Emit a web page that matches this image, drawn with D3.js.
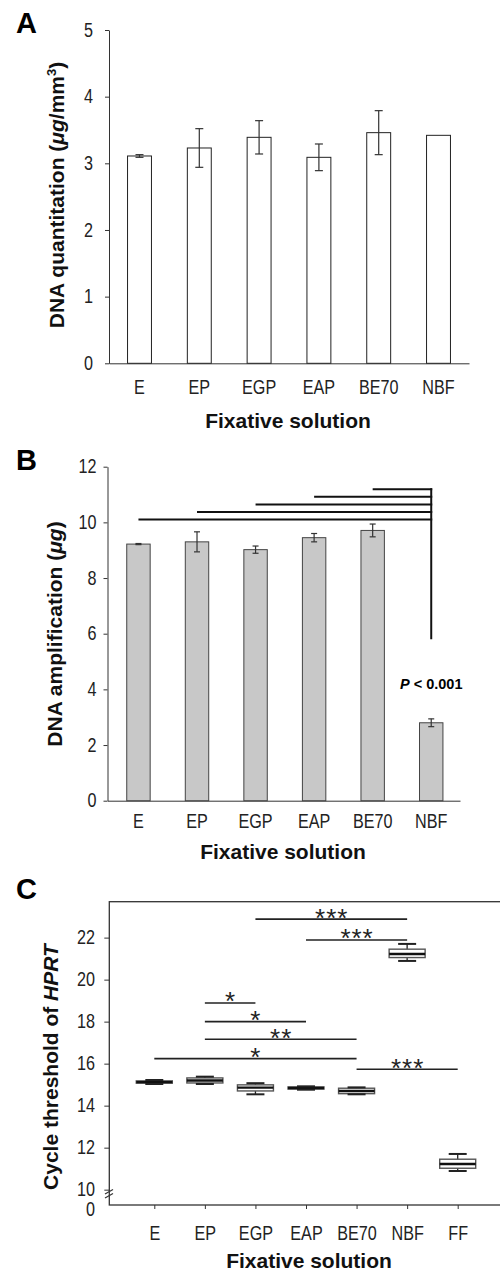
<!DOCTYPE html>
<html>
  <head>
    <meta charset="utf-8" />
    <title>Fixative solutions</title>
    <script src="https://d3js.org/d3.v7.min.js"></script>
    <style>
      body { margin: 0; background: #fff; }
      .tick text, .lbl { font-family: "Liberation Sans Narrow", "Arial Narrow", "Liberation Sans", sans-serif; font-size: 19.5px; fill: #222; }
      .title { font-family: "Liberation Sans", Arial, sans-serif; font-weight: bold; font-size: 21px; fill: #111; }
      .panel { font-family: "Liberation Sans", Arial, sans-serif; font-weight: bold; font-size: 29px; fill: #000; }
      .domain, .tick line { stroke: #333; }
    </style>
  </head>
  <body>
    <svg id="viz"></svg>
    <script>
      // panel A - DNA quantitation
      var categories = ["E", "EP", "EGP", "EAP", "BE70", "NBF"];
      var quantMean = [3.11, 3.23, 3.39, 3.09, 3.46, 3.42];
      var quantErr = [0.02, 0.29, 0.25, 0.20, 0.33, 0];
      var yTicksA = [0, 1, 2, 3, 4, 5];

      // panel B - DNA amplification
      var ampMean = [9.22, 9.30, 9.02, 9.45, 9.71, 2.80];
      var ampErr = [0.02, 0.36, 0.13, 0.15, 0.23, 0.14];
      var yTicksB = [0, 2, 4, 6, 8, 10, 12];
      var ampSigFrom = ["E", "EP", "EGP", "EAP", "BE70"];
      var ampSigLevel = [10.10, 10.37, 10.64, 10.92, 11.19];
      var ampSigBottom = 5.8;

      // panel C - Ct of HPRT (box plots)
      var ctCategories = ["E", "EP", "EGP", "EAP", "BE70", "NBF", "FF"];
      var ctMin    = [15.03, 15.03, 14.54, 14.76, 14.54, 20.89, 10.89];
      var ctQ1     = [15.07, 15.08, 14.70, 14.79, 14.57, 21.05, 11.02];
      var ctMedian = [15.12, 15.20, 14.86, 14.84, 14.70, 21.22, 11.22];
      var ctQ3     = [15.18, 15.32, 14.99, 14.89, 14.83, 21.45, 11.45];
      var ctMax    = [15.22, 15.38, 15.07, 14.92, 14.87, 21.70, 11.70];
      var yTicksC = [10, 12, 14, 16, 18, 20, 22];
      var ctSigFrom  = ["EGP", "EAP", "EP", "EP", "EP", "E", "BE70"];
      var ctSigTo    = ["NBF", "NBF", "EGP", "EAP", "BE70", "BE70", "FF"];
      var ctSigLevel = [22.88, 21.89, 18.89, 18.0, 17.16, 16.24, 15.73];
      var ctSigLabel = ["***", "***", "*", "*", "**", "*", "***"];

      var NARROW = 0.83; // no Arial Narrow installed, squeeze the regular face

      var svg = d3.select("#viz")
        .attr("width", 500)
        .attr("height", 1273);

      // ---------- A ----------
      var gA = svg.append("g");
      var xA = d3.scaleBand().domain(categories).range([109, 469])
        .paddingInner(0.6).paddingOuter(0.31).align(0.5);
      var yA = d3.scaleLinear().domain([0, 5]).range([363.3, 30]);

      gA.append("g")
        .attr("transform", "translate(109,0)")
        .call(d3.axisLeft(yA).tickValues(yTicksA).tickFormat(d3.format("d"))
          .tickSize(4).tickPadding(12).tickSizeOuter(0))
        .call(narrow);
      gA.append("g")
        .attr("transform", "translate(0,363.3)")
        .call(d3.axisBottom(xA).tickSize(0).tickPadding(17).tickSizeOuter(0))
        .call(narrow);

      gA.selectAll("rect.bar")
        .data(quantMean)
        .enter().append("rect")
        .attr("class", "bar")
        .attr("x", function(d, i) { return xA(categories[i]); })
        .attr("y", function(d) { return yA(d); })
        .attr("width", xA.bandwidth())
        .attr("height", function(d) { return yA(0) - yA(d); })
        .attr("fill", "white")
        .attr("stroke", "#222")
        .attr("stroke-width", 1);

      drawErrors(gA, xA, yA, quantMean, quantErr, 8);

      gA.append("text").attr("class", "panel").attr("x", 16).attr("y", 33).text("A");
      var tA = gA.append("text").attr("class", "title")
        .attr("text-anchor", "middle")
        .attr("transform", "translate(64,195) rotate(-90)");
      tA.append("tspan").text("DNA quantitation (");
      tA.append("tspan").attr("font-style", "italic").text("\u03bcg");
      tA.append("tspan").text("/mm");
      tA.append("tspan").attr("font-size", "13px").attr("dy", -8).text("3");
      tA.append("tspan").attr("dy", 8).text(")");
      gA.append("text").attr("class", "title").attr("text-anchor", "middle")
        .attr("x", 288).attr("y", 428).text("Fixative solution");

      // ---------- B ----------
      var gB = svg.append("g");
      var xB = d3.scaleBand().domain(categories).range([107.5, 460])
        .paddingInner(0.6).paddingOuter(0.31).align(0.53);
      var yB = d3.scaleLinear().domain([0, 12]).range([800.7, 466.7]);

      gB.append("g")
        .attr("transform", "translate(107.5,0)")
        .call(d3.axisLeft(yB).tickValues(yTicksB).tickSize(4).tickPadding(7).tickSizeOuter(0))
        .call(narrow);
      gB.append("g")
        .attr("transform", "translate(0,800.7)")
        .call(d3.axisBottom(xB).tickSize(0).tickPadding(13.5).tickSizeOuter(0))
        .call(narrow);

      gB.selectAll("rect.bar")
        .data(ampMean)
        .enter().append("rect")
        .attr("class", "bar")
        .attr("x", function(d, i) { return xB(categories[i]); })
        .attr("y", function(d) { return yB(d); })
        .attr("width", xB.bandwidth())
        .attr("height", function(d) { return yB(0) - yB(d); })
        .attr("fill", "#c8c8c8")
        .attr("stroke", "#444")
        .attr("stroke-width", 1);

      drawErrors(gB, xB, yB, ampMean, ampErr, 6);

      // comparison brackets to NBF
      var nbfX = xB("NBF") + xB.bandwidth() / 2;
      gB.selectAll("line.sig")
        .data(ampSigLevel)
        .enter().append("line")
        .attr("class", "sig")
        .attr("x1", function(d, i) { return xB(ampSigFrom[i]) + xB.bandwidth() / 2; })
        .attr("x2", nbfX + 1)
        .attr("y1", function(d) { return yB(d); })
        .attr("y2", function(d) { return yB(d); })
        .attr("stroke", "#111")
        .attr("stroke-width", 2);
      gB.append("line")
        .attr("x1", nbfX).attr("x2", nbfX)
        .attr("y1", yB(d3.max(ampSigLevel)) - 1)
        .attr("y2", yB(ampSigBottom))
        .attr("stroke", "#111")
        .attr("stroke-width", 2);
      var pt = gB.append("text")
        .attr("x", nbfX).attr("y", 689.3)
        .attr("text-anchor", "middle")
        .style("font-family", "'Liberation Sans', Arial, sans-serif")
        .style("font-weight", "bold")
        .style("font-size", "14.5px");
      pt.append("tspan").attr("font-style", "italic").text("P");
      pt.append("tspan").text(" < 0.001");

      gB.append("text").attr("class", "panel").attr("x", 16).attr("y", 470).text("B");
      var tB = gB.append("text").attr("class", "title")
        .attr("text-anchor", "middle")
        .attr("transform", "translate(62,634) rotate(-90)");
      tB.append("tspan").text("DNA amplification (");
      tB.append("tspan").attr("font-style", "italic").text("\u03bcg");
      tB.append("tspan").text(")");
      gB.append("text").attr("class", "title").attr("text-anchor", "middle")
        .attr("x", 283).attr("y", 859).text("Fixative solution");

      // ---------- C ----------
      var gC = svg.append("g");
      var xC = d3.scalePoint().domain(ctCategories).range([154.3, 457.7]);
      var yC = d3.scaleLinear().domain([9.27, 23.71]).range([1205, 901.7]);

      gC.append("rect")
        .attr("x", 109.3).attr("y", 901.7)
        .attr("width", 420).attr("height", 1205 - 901.7)
        .attr("fill", "none")
        .attr("stroke", "#333")
        .attr("stroke-width", 1.3);

      var axC = gC.append("g")
        .attr("transform", "translate(109.3,0)")
        .call(d3.axisLeft(yC).tickValues(yTicksC).tickSize(5).tickPadding(9.3))
        .call(narrow);
      axC.select(".domain").remove();
      gC.append("text").attr("class", "lbl")
        .attr("x", 95 / NARROW).attr("y", 1216)
        .attr("transform", "scale(" + NARROW + ",1)")
        .attr("text-anchor", "end").text("0");

      // axis break
      [0, 4].forEach(function(off) {
        gC.append("line")
          .attr("x1", 105).attr("y1", 1194 + off)
          .attr("x2", 113).attr("y2", 1189.5 + off)
          .attr("stroke", "#333").attr("stroke-width", 1.2);
      });

      var axCx = gC.append("g")
        .attr("transform", "translate(0,1205)")
        .call(d3.axisBottom(xC).tickSize(4).tickPadding(17.2))
        .call(narrow);
      axCx.select(".domain").remove();

      var boxW = 36, capW = 18;
      var boxes = gC.selectAll("g.box")
        .data(ctCategories)
        .enter().append("g")
        .attr("class", "box")
        .attr("transform", function(d) { return "translate(" + xC(d) + ",0)"; });

      boxes.append("line")
        .attr("x1", 0).attr("x2", 0)
        .attr("y1", function(d, i) { return yC(ctMax[i]); })
        .attr("y2", function(d, i) { return yC(ctMin[i]); })
        .attr("stroke", "#222").attr("stroke-width", 1.3);
      boxes.append("rect")
        .attr("x", -boxW / 2)
        .attr("width", boxW)
        .attr("y", function(d, i) { return yC(ctQ3[i]); })
        .attr("height", function(d, i) { return yC(ctQ1[i]) - yC(ctQ3[i]); })
        .attr("fill", "white")
        .attr("stroke", "#555")
        .attr("stroke-width", 1.4);
      boxes.append("line")
        .attr("x1", -boxW / 2).attr("x2", boxW / 2)
        .attr("y1", function(d, i) { return yC(ctMedian[i]); })
        .attr("y2", function(d, i) { return yC(ctMedian[i]); })
        .attr("stroke", "#111").attr("stroke-width", 2.4);
      [ctMax, ctMin].forEach(function(arr) {
        boxes.append("line")
          .attr("x1", -capW / 2).attr("x2", capW / 2)
          .attr("y1", function(d, i) { return yC(arr[i]); })
          .attr("y2", function(d, i) { return yC(arr[i]); })
          .attr("stroke", "#222").attr("stroke-width", 2);
      });

      // significance lines
      gC.selectAll("line.sig")
        .data(ctSigLevel)
        .enter().append("line")
        .attr("class", "sig")
        .attr("x1", function(d, i) { return xC(ctSigFrom[i]); })
        .attr("x2", function(d, i) { return xC(ctSigTo[i]); })
        .attr("y1", function(d) { return yC(d); })
        .attr("y2", function(d) { return yC(d); })
        .attr("stroke", "#222")
        .attr("stroke-width", 1.6);
      gC.selectAll("text.star")
        .data(ctSigLevel)
        .enter().append("text")
        .attr("class", "star")
        .attr("x", function(d, i) { return (xC(ctSigFrom[i]) + xC(ctSigTo[i])) / 2 + 0.5; })
        .attr("y", function(d) { return yC(d) + 7.5; })
        .attr("text-anchor", "middle")
        .style("font-family", "'Liberation Sans', Arial, sans-serif")
        .style("font-size", "26px")
        .style("letter-spacing", "1px")
        .attr("fill", "#222")
        .text(function(d, i) { return ctSigLabel[i]; });

      gC.append("text").attr("class", "panel").attr("x", 16).attr("y", 899).text("C");
      var tC = gC.append("text").attr("class", "title")
        .attr("text-anchor", "middle")
        .attr("transform", "translate(58,1067) rotate(-90)");
      tC.append("tspan").text("Cycle threshold of ");
      tC.append("tspan").attr("font-style", "italic").text("HPRT");
      gC.append("text").attr("class", "title").attr("text-anchor", "middle")
        .attr("x", 309).attr("y", 1268).text("Fixative solution");

      // squeeze axis labels horizontally to imitate the narrow face
      function narrow(g) {
        g.selectAll(".tick text").each(function() {
          var t = d3.select(this);
          var x = +t.attr("x") || 0;
          t.attr("x", x / NARROW).attr("transform", "scale(" + NARROW + ",1)");
        });
      }

      function drawErrors(g, x, y, means, errs, cap) {
        var eb = g.selectAll("g.err")
          .data(means)
          .enter().append("g")
          .attr("class", "err")
          .filter(function(d, i) { return errs[i] > 0; })
          .attr("transform", function(d, i) {
            return "translate(" + (x(categories[i]) + x.bandwidth() / 2) + ",0)";
          });
        eb.append("line")
          .attr("x1", 0).attr("x2", 0)
          .attr("y1", function(d) { return y(d + errs[means.indexOf(d)]); })
          .attr("y2", function(d) { return y(d - errs[means.indexOf(d)]); })
          .attr("stroke", "#333").attr("stroke-width", 1.2);
        [1, -1].forEach(function(s) {
          eb.append("line")
            .attr("x1", -cap / 2).attr("x2", cap / 2)
            .attr("y1", function(d) { return y(d + s * errs[means.indexOf(d)]); })
            .attr("y2", function(d) { return y(d + s * errs[means.indexOf(d)]); })
            .attr("stroke", "#333").attr("stroke-width", 1.2);
        });
      }
    </script>
  </body>
</html>
